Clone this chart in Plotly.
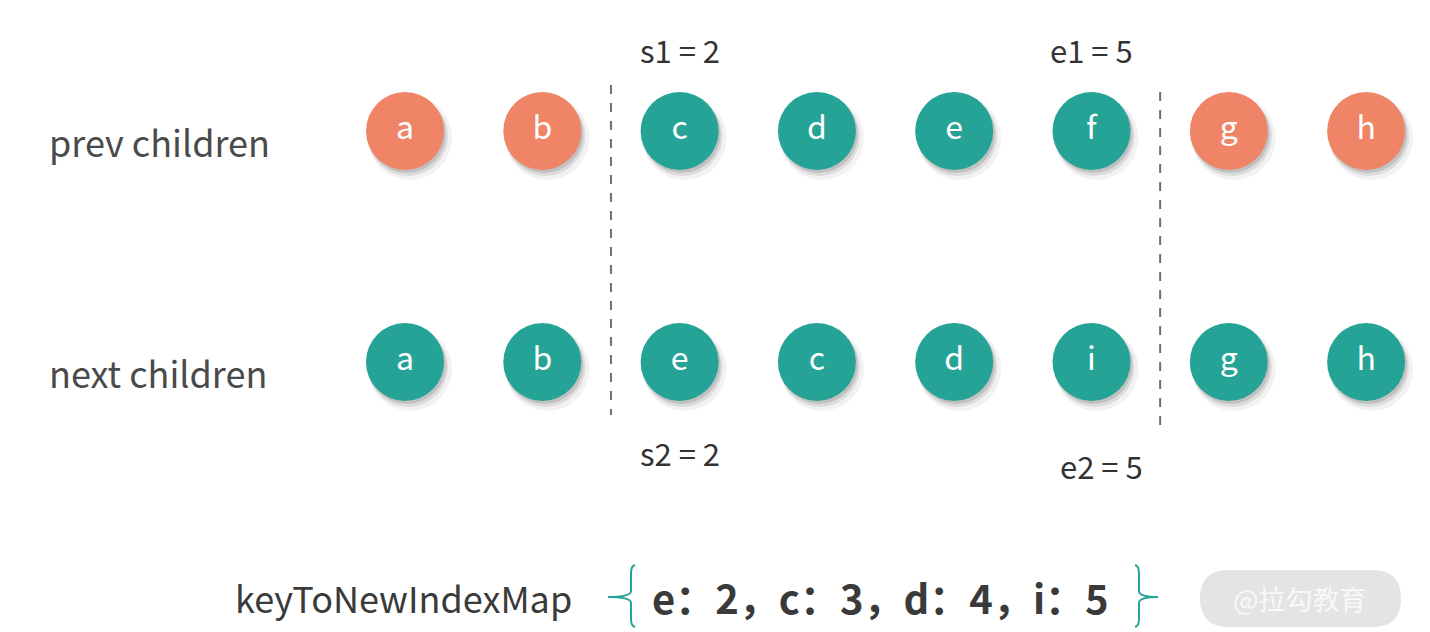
import plotly.graph_objects as go

# ---- data ----
row_labels = ["prev children", "next children"]
prev_keys = ["a", "b", "c", "d", "e", "f", "g", "h"]
next_keys = ["a", "b", "e", "c", "d", "i", "g", "h"]
s1, e1 = 2, 5
s2, e2 = 2, 5
map_keys = ["e", "c", "d", "i"]
map_vals = [2, 3, 4, 5]
map_name = "keyToNewIndexMap"
watermark = "@拉勾教育"

# ---- style ----
W, H = 1430, 632
ORANGE = "#EF8466"
TEAL = "#25A396"
TEXT = "#4a4a4a"
FONT = "Noto Sans CJK SC"
X0, DX = 405, 137.3       # pixel of index 0 and spacing
Y0, DY = 131, 231         # pixel of row 0 and row spacing

fig = go.Figure()

# prev row: only the unsynced middle part is teal; next row: all teal
rows = [
    (0, prev_keys, [TEAL if s1 <= i <= e1 else ORANGE for i in range(len(prev_keys))]),
    (1, next_keys, [TEAL for _ in next_keys]),
]
for r, keys, colors in rows:
    xs = list(range(len(keys)))
    ys = [r] * len(keys)
    for (ox, oy, sz, a) in [(5, 7, 84, 0.05), (3, 5, 80, 0.09), (2, 3, 78, 0.12)]:
        fig.add_trace(go.Scatter(
            x=[v + ox / DX for v in xs], y=[v + oy / DY for v in ys],
            mode="markers",
            marker=dict(size=sz, color=f"rgba(0,0,0,{a})", line=dict(width=0)),
            hoverinfo="skip", showlegend=False))
    fig.add_trace(go.Scatter(
        x=xs, y=ys, mode="markers+text", text=keys,
        textposition="middle center",
        textfont=dict(family=FONT, size=32, color="white"),
        marker=dict(size=78, color=colors, line=dict(width=0)),
        hoverinfo="skip", showlegend=False))

# row labels
for r, lab in enumerate(row_labels):
    fig.add_annotation(x=47 / W, xref="paper", y=r + 10 / DY, yref="y",
                       text=lab, showarrow=False, xanchor="left", yanchor="middle",
                       font=dict(family=FONT, size=36, color=TEXT))

# dashed separators
for xv, ytop, ybot in [(s1 - 0.5, 85, 415), (e1 + 0.5, 92, 425)]:
    fig.add_shape(type="line", xref="x", yref="paper", x0=xv, x1=xv,
                  y0=1 - ytop / H, y1=1 - ybot / H,
                  line=dict(color="#6f6f6f", width=2, dash="dash"))

# index labels
idx_labels = [
    (s1, 50, f"s1 = {s1}", 0),
    (e1, 50, f"e1 = {e1}", 0),
    (s2, 452, f"s2 = {s2}", 0),
    (e2, 465, f"e2 = {e2}", 10),
]
for xv, ypx, txt, off in idx_labels:
    fig.add_annotation(x=xv + off / DX, xref="x", y=1 - ypx / H, yref="paper",
                       text=txt, showarrow=False, xanchor="center", yanchor="middle",
                       font=dict(family=FONT, size=31, color="#333333"))

# map line
fig.add_annotation(x=233 / W, xref="paper", y=1 - 597 / H, yref="paper",
                   text=map_name, showarrow=False, xanchor="left", yanchor="middle",
                   font=dict(family=FONT, size=36, color="#3a3a3a"))
map_text = "，".join(f"{k}：{v}" for k, v in zip(map_keys, map_vals))
fig.add_annotation(x=880 / W, xref="paper", y=1 - 597 / H, yref="paper",
                   text=f"<b>{map_text}</b>", showarrow=False, xanchor="center",
                   yanchor="middle",
                   font=dict(family=FONT, size=40, color="#3a3a3a"))

# braces
def ppx(x, y):
    return f"{x / W:.5f},{1 - y / H:.5f}"

def brace(xv, tip, d):
    # d = -1: tip to the left ("{"), d = +1: tip to the right ("}")
    top, bot, mid = 565, 627, 597
    c = -d * 4
    return (f"M {ppx(xv + c, top)} Q {ppx(xv, top + 1)} {ppx(xv, top + 8)} "
            f"L {ppx(xv, mid - 6)} Q {ppx(xv, mid)} {ppx(tip, mid)} "
            f"M {ppx(xv, mid + 6)} Q {ppx(xv, mid)} {ppx(tip, mid)} "
            f"M {ppx(xv, mid + 6)} L {ppx(xv, bot - 8)} "
            f"Q {ppx(xv, bot - 1)} {ppx(xv + c, bot)}")

for xv, tip, d in [(631, 608, -1), (1139, 1158, 1)]:
    fig.add_shape(type="path", xref="paper", yref="paper", path=brace(xv, tip, d),
                  line=dict(color=TEAL, width=2))

# watermark (pill)
def pill(x0, x1, y0, y1):
    r = (y1 - y0) / 2
    return (f"M {ppx(x0 + r, y0)} L {ppx(x1 - r, y0)} "
            f"Q {ppx(x1, y0)} {ppx(x1, y0 + r)} Q {ppx(x1, y1)} {ppx(x1 - r, y1)} "
            f"L {ppx(x0 + r, y1)} Q {ppx(x0, y1)} {ppx(x0, y0 + r)} "
            f"Q {ppx(x0, y0)} {ppx(x0 + r, y0)} Z")

fig.add_shape(type="path", xref="paper", yref="paper", path=pill(1200, 1401, 570, 627),
              fillcolor="#e4e4e4", line=dict(width=0), layer="below")
fig.add_annotation(x=1300 / W, xref="paper", y=1 - 598 / H, yref="paper",
                   text=watermark, showarrow=False, xanchor="center", yanchor="middle",
                   font=dict(family=FONT, size=27, color="#f8f8f8"))

fig.update_layout(
    width=W, height=H, margin=dict(l=0, r=0, t=0, b=0),
    paper_bgcolor="white", plot_bgcolor="white",
    xaxis=dict(range=[-X0 / DX, (W - X0) / DX], visible=False, fixedrange=True),
    yaxis=dict(range=[(H - Y0) / DY, -Y0 / DY], visible=False, fixedrange=True),
    showlegend=False,
)
fig.write_html("out.html", config={"displayModeBar": False},
               post_script="document.body.style.margin='0';")
